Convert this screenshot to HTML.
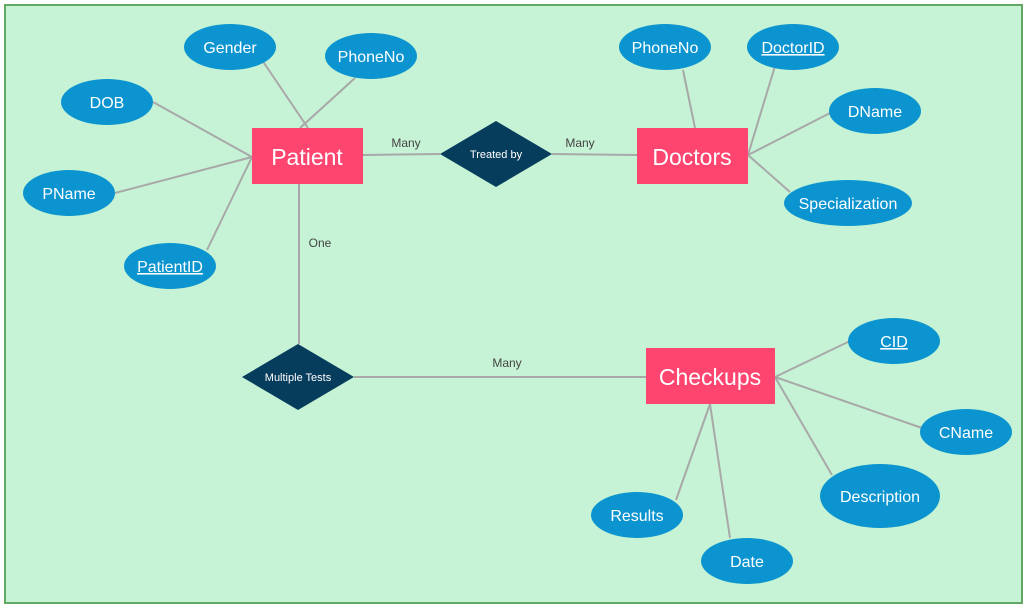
<!DOCTYPE html>
<html><head><meta charset="utf-8"><style>
html,body{margin:0;padding:0;background:#fff;width:1028px;height:607px;overflow:hidden}
svg{display:block}
text{font-family:"Liberation Sans",sans-serif}
</style></head><body>
<svg width="1028" height="607" viewBox="0 0 1028 607">
<rect x="5" y="5" width="1017" height="598" fill="#c6f3d5" stroke="#5fa964" stroke-width="2"/>
<g stroke="#a8a8a8" stroke-width="2" fill="none">
<line x1="262" y1="60" x2="308" y2="128"/>
<line x1="355" y1="78" x2="300" y2="128"/>
<line x1="153" y1="102" x2="252" y2="157"/>
<line x1="115" y1="193" x2="252" y2="157"/>
<line x1="207" y1="250" x2="252" y2="157"/>
<line x1="363" y1="155" x2="440" y2="154"/>
<line x1="552" y1="154" x2="637" y2="155"/>
<line x1="683" y1="70" x2="695" y2="128"/>
<line x1="775" y1="66" x2="748" y2="155"/>
<line x1="830" y1="113" x2="748" y2="155"/>
<line x1="790" y1="192" x2="748" y2="155"/>
<line x1="299" y1="184" x2="299" y2="344"/>
<line x1="354" y1="377" x2="646" y2="377"/>
<line x1="850" y1="341" x2="775" y2="377"/>
<line x1="922" y1="428" x2="775" y2="377"/>
<line x1="832" y1="475" x2="775" y2="377"/>
<line x1="676" y1="500" x2="710" y2="404"/>
<line x1="730" y1="538" x2="710" y2="404"/>
</g>
<g fill="#0b94cf">
<ellipse cx="230" cy="47" rx="46" ry="23"/>
<ellipse cx="371" cy="56" rx="46" ry="23"/>
<ellipse cx="107" cy="102" rx="46" ry="23"/>
<ellipse cx="69" cy="193" rx="46" ry="23"/>
<ellipse cx="170" cy="266" rx="46" ry="23"/>
<ellipse cx="665" cy="47" rx="46" ry="23"/>
<ellipse cx="793" cy="47" rx="46" ry="23"/>
<ellipse cx="875" cy="111" rx="46" ry="23"/>
<ellipse cx="848" cy="203" rx="64" ry="23"/>
<ellipse cx="894" cy="341" rx="46" ry="23"/>
<ellipse cx="966" cy="432" rx="46" ry="23"/>
<ellipse cx="880" cy="496" rx="60" ry="32"/>
<ellipse cx="637" cy="515" rx="46" ry="23"/>
<ellipse cx="747" cy="561" rx="46" ry="23"/>
</g>
<g fill="#fd4570">
<rect x="252" y="128" width="111" height="56"/>
<rect x="637" y="128" width="111" height="56"/>
<rect x="646" y="348" width="129" height="56"/>
</g>
<g fill="#073d5c">
<polygon points="440,154 496,121 552,154 496,187"/>
<polygon points="242,377 298,344 354,377 298,410"/>
</g>
<g fill="#fff" text-anchor="middle" font-size="16">
<text x="230" y="53">Gender</text>
<text x="371" y="62">PhoneNo</text>
<text x="107" y="108">DOB</text>
<text x="69" y="199">PName</text>
<text x="170" y="272" text-decoration="underline">PatientID</text>
<text x="665" y="53">PhoneNo</text>
<text x="793" y="53" text-decoration="underline">DoctorID</text>
<text x="875" y="117">DName</text>
<text x="848" y="209">Specialization</text>
<text x="894" y="347" text-decoration="underline">CID</text>
<text x="966" y="438">CName</text>
<text x="880" y="502">Description</text>
<text x="637" y="521">Results</text>
<text x="747" y="567">Date</text>
<text x="307" y="165" font-size="23">Patient</text>
<text x="692" y="165" font-size="23">Doctors</text>
<text x="710" y="385" font-size="23">Checkups</text>
<text x="496" y="158" font-size="11">Treated by</text>
<text x="298" y="381" font-size="11">Multiple Tests</text>
</g>
<g fill="#444" font-size="12" text-anchor="middle">
<text x="406" y="147">Many</text>
<text x="580" y="147">Many</text>
<text x="320" y="247">One</text>
<text x="507" y="367">Many</text>
</g>
</svg>
</body></html>
